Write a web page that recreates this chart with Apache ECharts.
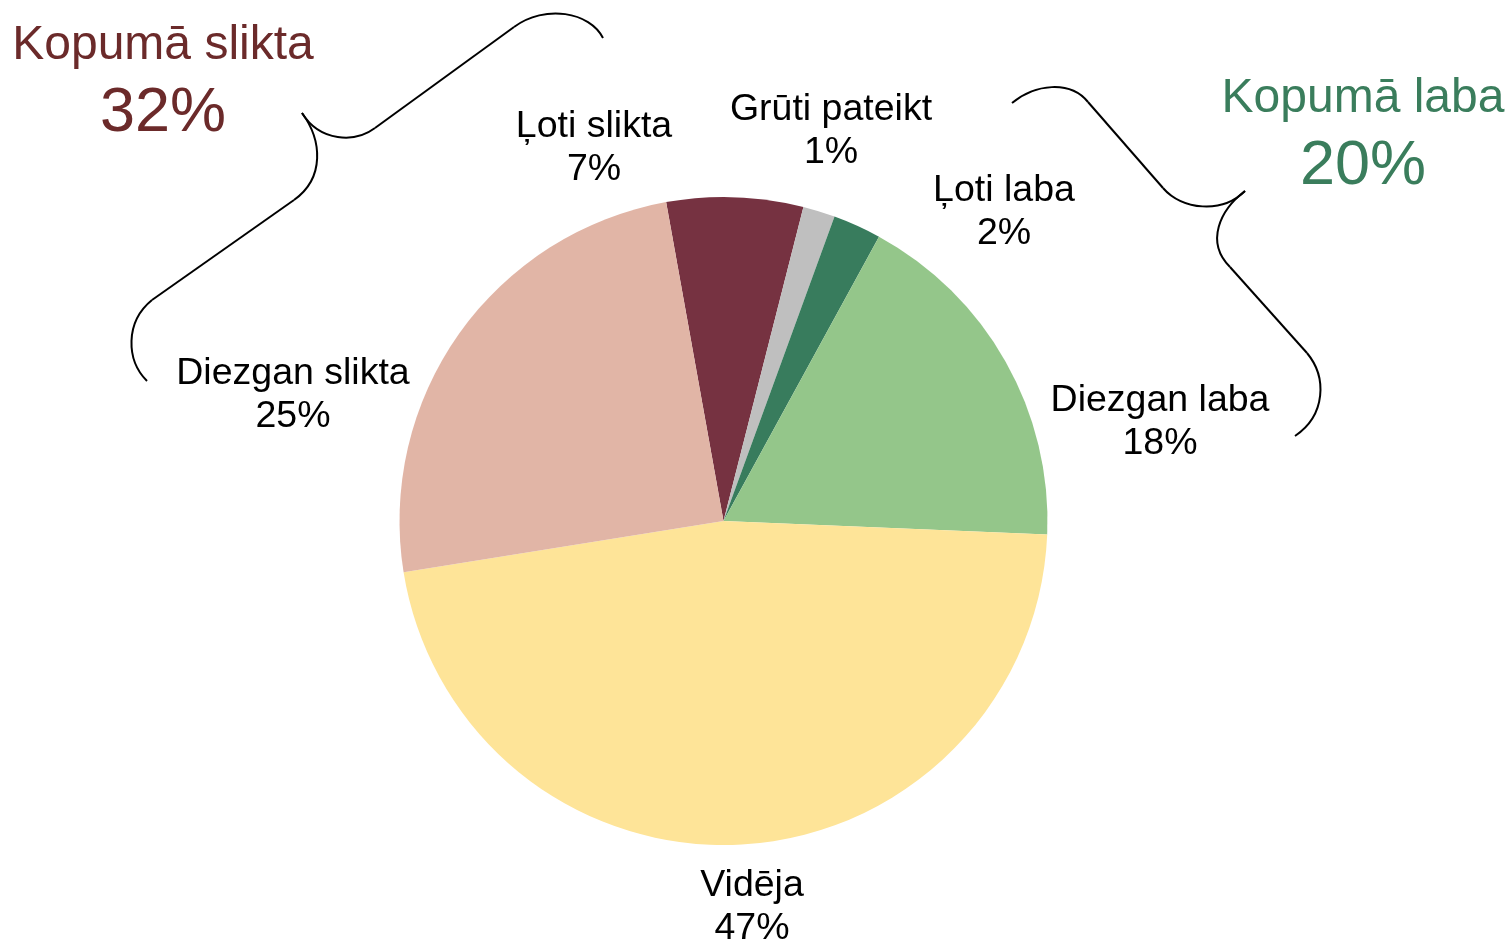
<!DOCTYPE html>
<html>
<head>
<meta charset="utf-8">
<script src="https://cdn.jsdelivr.net/npm/echarts@6/dist/echarts.min.js"></script>
<style>
  html, body { margin: 0; padding: 0; background: #fff; }
  #chart { width: 1510px; height: 942px; }
</style>
</head>
<body>
<div id="chart"></div>
<script>
// dati (nolasīti no attēla)
const categories = ['Ļoti slikta', 'Grūti pateikt', 'Ļoti laba', 'Diezgan laba', 'Vidēja', 'Diezgan slikta']
const values = [6.8, 1.6, 2.4, 17.7, 46.8, 24.7]
const shownPct = [7, 1, 2, 18, 47, 25]
const colors = ['#763241', '#BFBFBF', '#387C5D', '#94C68A', '#FEE498', '#E1B5A6']
const totalBad = 32
const totalGood = 20

// etiķešu centri
const labelPos = [[594, 148], [831, 131], [1004, 212], [1160, 422], [752, 907], [293, 395]]

const font = '"Liberation Sans", Arial, sans-serif'
const chart = echarts.init(document.getElementById('chart'))

let pieData = categories.map((c, i) => {
  return { name: c, value: values[i], itemStyle: { color: colors[i] } }
})

// figūriekavas
function brace(segs) {
  return segs.map(s => {
    if (s.length == 4) {
      return { type: 'line', shape: { x1: s[0], y1: s[1], x2: s[2], y2: s[3] },
        style: { stroke: '#000', lineWidth: 2 }, silent: true }
    }
    return { type: 'bezierCurve',
      shape: { x1: s[0], y1: s[1], cpx1: s[2], cpy1: s[3], cpx2: s[4], cpy2: s[5], x2: s[6], y2: s[7] },
      style: { stroke: '#000', lineWidth: 2, fill: null }, silent: true }
  })
}

const leftBrace = brace([
  [603, 38, 590, 12, 545, 4, 514, 27],
  [514, 27, 375, 128],
  [375, 128, 355, 143, 320, 142, 302, 113],
  [302, 113, 322, 140, 325, 178, 294, 200],
  [294, 200, 152, 300],
  [152, 300, 125, 322, 126, 360, 147, 381]
])
const rightBrace = brace([
  [1012, 103, 1035, 84, 1070, 80, 1088, 102],
  [1088, 102, 1163, 188],
  [1163, 188, 1182, 210, 1222, 214, 1245, 191],
  [1245, 191, 1220, 210, 1205, 242, 1230, 267],
  [1230, 267, 1307, 353],
  [1307, 353, 1327, 377, 1326, 415, 1295, 436]
])

const option = {
  animation: false,
  backgroundColor: '#fff',
  textStyle: { fontFamily: font },
  graphic: [
    ...leftBrace,
    ...rightBrace,
    { type: 'text', x: 163, y: 46, style: { text: 'Kopumā slikta', font: '48px ' + font, fill: '#6B2A2A', align: 'center', verticalAlign: 'middle' } },
    { type: 'text', x: 163, y: 114, style: { text: totalBad + '%', font: '63px ' + font, fill: '#6B2A2A', align: 'center', verticalAlign: 'middle' } },
    { type: 'text', x: 1363, y: 99, style: { text: 'Kopumā laba', font: '48px ' + font, fill: '#3A7D5C', align: 'center', verticalAlign: 'middle' } },
    { type: 'text', x: 1363, y: 167, style: { text: totalGood + '%', font: '63px ' + font, fill: '#3A7D5C', align: 'center', verticalAlign: 'middle' } }
  ],
  series: [{
    type: 'pie',
    center: [723.5, 521],
    radius: 324,
    startAngle: 100.2,
    clockwise: true,
    avoidLabelOverlap: false,
    emphasis: { disabled: true },
    itemStyle: { borderWidth: 0 },
    label: {
      show: true,
      position: 'outside',
      color: '#000',
      fontSize: 37.5,
      lineHeight: 43,
      fontFamily: font,
      align: 'center',
      formatter: p => p.name + '\n' + shownPct[p.dataIndex] + '%'
    },
    labelLine: { show: false },
    labelLayout: p => {
      let pos = labelPos[p.dataIndex]
      return { x: pos[0], y: pos[1], align: 'center', verticalAlign: 'middle' }
    },
    data: pieData
  }]
}
chart.setOption(option)
</script>
</body>
</html>
